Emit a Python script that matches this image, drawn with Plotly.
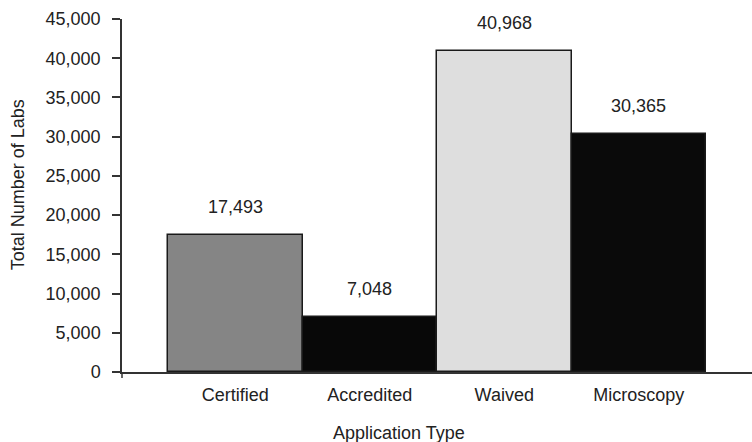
import plotly.graph_objects as go

categories = ["Certified", "Accredited", "Waived", "Microscopy"]
lab_counts = [17493, 7048, 40968, 30365]
bar_colors = ["#858585", "#080808", "#dedede", "#0a0a0a"]
y_ticks = [0, 5000, 10000, 15000, 20000, 25000, 30000, 35000, 40000, 45000]

FONT = "Liberation Sans, Arial, sans-serif"
TEXT = "#222222"
FS = 18

fig = go.Figure(
    go.Bar(
        x=categories,
        y=lab_counts,
        marker=dict(color=bar_colors, line=dict(color="#1a1a1a", width=1.5)),
        width=1.0,
        showlegend=False,
        hoverinfo="x+y",
    )
)

# value labels sitting above each bar
for cat, val in zip(categories, lab_counts):
    fig.add_annotation(
        x=cat, y=val, text=f"{val:,}", showarrow=False,
        yanchor="bottom", yshift=16,
        font=dict(family=FONT, size=FS, color=TEXT),
    )

# axis titles
fig.add_annotation(
    xref="paper", yref="paper", x=0.44, y=-0.173,
    text="Application Type", showarrow=False,
    xanchor="center", yanchor="middle",
    font=dict(family=FONT, size=FS, color=TEXT),
)
fig.add_annotation(
    xref="paper", yref="paper", x=-0.166, y=0.53,
    text="Total Number of Labs", showarrow=False, textangle=-90,
    xanchor="center", yanchor="middle",
    font=dict(family=FONT, size=FS, color=TEXT),
)

# short stub of the y-axis line below the baseline
fig.add_shape(
    type="line", xref="paper", yref="paper",
    x0=0, x1=0, y0=0, y1=-0.017,
    line=dict(color="#333333", width=1.5),
)

fig.update_layout(
    width=752, height=442,
    margin=dict(l=122, r=0, t=19, b=70),
    paper_bgcolor="white", plot_bgcolor="white",
    bargap=0,
    font=dict(family=FONT, size=FS, color=TEXT),
    xaxis=dict(
        range=[-0.842, 3.842],
        showline=True, linecolor="#333333", linewidth=1.5,
        ticks="outside", ticklen=6, tickcolor="rgba(0,0,0,0)",
        showgrid=False, zeroline=False,
        tickfont=dict(family=FONT, size=FS, color=TEXT),
    ),
    yaxis=dict(
        range=[0, 45000],
        tickvals=y_ticks,
        ticktext=[f"{v:,}" for v in y_ticks],
        showline=True, linecolor="#333333", linewidth=1.5,
        ticks="outside", ticklen=8, tickcolor="#333333", tickwidth=1.5,
        ticklabelstandoff=8,
        showgrid=False, zeroline=False,
        tickfont=dict(family=FONT, size=FS, color=TEXT),
    ),
)

fig.write_html("out.html")
